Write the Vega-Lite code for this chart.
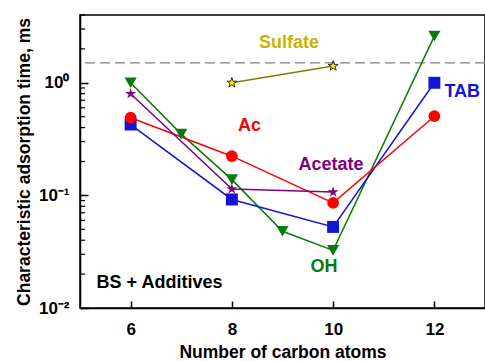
{
  "$schema": "https://vega.github.io/schema/vega-lite/v6.json",
  "width": 405,
  "height": 293,
  "autosize": {"type": "none"},
  "padding": {"left": 80, "top": 15, "right": 0, "bottom": 53},
  "config": {
    "font": "Liberation Sans",
    "view": {"stroke": "black", "strokeWidth": 1.5},
    "axis": {"grid": false, "domainColor": "black", "domainWidth": 1.5, "tickColor": "black", "tickWidth": 1.5, "labelFont": "Liberation Sans", "labelFontWeight": "bold", "labelFontSize": 17, "labelColor": "black", "titleFont": "Liberation Sans", "titleFontWeight": "bold", "titleFontSize": 17.5, "titleColor": "black"}
  },
  "datasets": {
    "series": [
      {"series": "OH", "n": 6, "t": 1.0},
      {"series": "OH", "n": 7, "t": 0.35},
      {"series": "OH", "n": 8, "t": 0.138},
      {"series": "OH", "n": 9, "t": 0.048},
      {"series": "OH", "n": 10, "t": 0.0325},
      {"series": "OH", "n": 12, "t": 2.6},
      {"series": "TAB", "n": 6, "t": 0.426},
      {"series": "TAB", "n": 8, "t": 0.092},
      {"series": "TAB", "n": 10, "t": 0.0525},
      {"series": "TAB", "n": 12, "t": 1.0},
      {"series": "Ac", "n": 6, "t": 0.49},
      {"series": "Ac", "n": 8, "t": 0.223},
      {"series": "Ac", "n": 10, "t": 0.0858},
      {"series": "Ac", "n": 12, "t": 0.505},
      {"series": "Acetate", "n": 6, "t": 0.8},
      {"series": "Acetate", "n": 8, "t": 0.114},
      {"series": "Acetate", "n": 10, "t": 0.107},
      {"series": "Sulfate", "n": 8, "t": 1.0},
      {"series": "Sulfate", "n": 10, "t": 1.41}
    ],
    "labels": [
      {"label": "Sulfate", "n": 9.13, "t": 2.24, "series": "Sulfate"},
      {"label": "TAB", "n": 12.55, "t": 0.82, "series": "TAB"},
      {"label": "Ac", "n": 8.35, "t": 0.41, "series": "Ac"},
      {"label": "Acetate", "n": 9.96, "t": 0.188, "series": "Acetate"},
      {"label": "OH", "n": 9.82, "t": 0.0229, "series": "OH"},
      {"label": "BS + Additives", "n": 6.57, "t": 0.0168, "series": "BS"}
    ]
  },
  "layer": [
    {
      "data": {"values": [{"t": 1.5}]},
      "mark": {"type": "rule", "color": "#808080", "strokeDash": [10, 5], "strokeWidth": 1.3},
      "encoding": {"y": {"field": "t", "type": "quantitative", "scale": {"type": "log", "domain": [0.01, 4]}}}
    },
    {
      "data": {"values": [{"t": 0.02}, {"t": 0.03}, {"t": 0.04}, {"t": 0.05}, {"t": 0.06}, {"t": 0.07}, {"t": 0.08}, {"t": 0.09}, {"t": 0.2}, {"t": 0.3}, {"t": 0.4}, {"t": 0.5}, {"t": 0.6}, {"t": 0.7}, {"t": 0.8}, {"t": 0.9}, {"t": 2}, {"t": 3}, {"t": 4}]},
      "mark": {"type": "rule", "color": "black", "strokeWidth": 1.2},
      "encoding": {
        "y": {"field": "t", "type": "quantitative", "scale": {"type": "log", "domain": [0.01, 4]}},
        "x": {"datum": 5, "type": "quantitative", "scale": {"domain": [5, 13]}},
        "x2": {"datum": 5.1}
      }
    },
    {
      "data": {"name": "series"},
      "mark": {"type": "line", "strokeWidth": 1.5},
      "encoding": {
        "x": {"field": "n", "type": "quantitative", "scale": {"domain": [5, 13], "nice": false}, "axis": {"values": [6, 8, 10, 12], "tickSize": -7, "labelPadding": 20, "title": "Number of carbon atoms", "titlePadding": 6}},
        "y": {"field": "t", "type": "quantitative", "scale": {"type": "log", "domain": [0.01, 4], "nice": false}, "axis": {"values": [0.01, 0.1, 1], "tickSize": -8, "labelPadding": 19, "labelExpr": "datum.value >= 0.99 ? '10⁰' : datum.value >= 0.099 ? '10⁻¹' : '10⁻²'", "title": "Characteristic adsorption time, ms", "titlePadding": 5}},
        "stroke": {"field": "series", "type": "nominal", "legend": null, "scale": {"domain": ["OH", "TAB", "Ac", "Acetate", "Sulfate"], "range": ["#0a7a0a", "#1414d2", "#ff0000", "#800080", "#808000"]}},
        "detail": {"field": "series"}
      }
    },
    {
      "data": {"name": "series"},
      "transform": [{"filter": "datum.series !== 'Sulfate'"}],
      "mark": {"type": "point", "filled": true, "opacity": 1},
      "encoding": {
        "x": {"field": "n", "type": "quantitative"},
        "y": {"field": "t", "type": "quantitative"},
        "fill": {"field": "series", "type": "nominal", "legend": null, "scale": {"domain": ["OH", "TAB", "Ac", "Acetate"], "range": ["#0a7a0a", "#1414d2", "#ff0000", "#800080"]}},
        "shape": {"field": "series", "type": "nominal", "legend": null, "scale": {"domain": ["OH", "TAB", "Ac", "Acetate"], "range": ["triangle-down", "square", "circle", "M0,-1L0.224,-0.309L0.951,-0.309L0.363,0.118L0.588,0.809L0,0.382L-0.588,0.809L-0.363,0.118L-0.951,-0.309L-0.224,-0.309Z"]}},
        "size": {"field": "series", "type": "nominal", "legend": null, "scale": {"domain": ["OH", "TAB", "Ac", "Acetate"], "range": [150, 130, 150, 190]}}
      }
    },
    {
      "data": {"name": "series"},
      "transform": [{"filter": "datum.series === 'Sulfate'"}],
      "mark": {"type": "point", "filled": true, "opacity": 1, "fill": "#ffee00", "stroke": "black", "strokeWidth": 0.8, "size": 110, "shape": "M0,-1L0.224,-0.309L0.951,-0.309L0.363,0.118L0.588,0.809L0,0.382L-0.588,0.809L-0.363,0.118L-0.951,-0.309L-0.224,-0.309Z"},
      "encoding": {
        "x": {"field": "n", "type": "quantitative"},
        "y": {"field": "t", "type": "quantitative"}
      }
    },
    {
      "data": {"name": "labels"},
      "mark": {"type": "text", "font": "Liberation Sans", "fontWeight": "bold", "fontSize": 18, "align": "center", "baseline": "middle"},
      "encoding": {
        "x": {"field": "n", "type": "quantitative"},
        "y": {"field": "t", "type": "quantitative"},
        "text": {"field": "label"},
        "color": {"field": "series", "type": "nominal", "legend": null, "scale": {"domain": ["OH", "TAB", "Ac", "Acetate", "Sulfate", "BS"], "range": ["#0a7a0a", "#1414d2", "#ff0000", "#800080", "#c8b400", "black"]}}
      }
    }
  ]
}
